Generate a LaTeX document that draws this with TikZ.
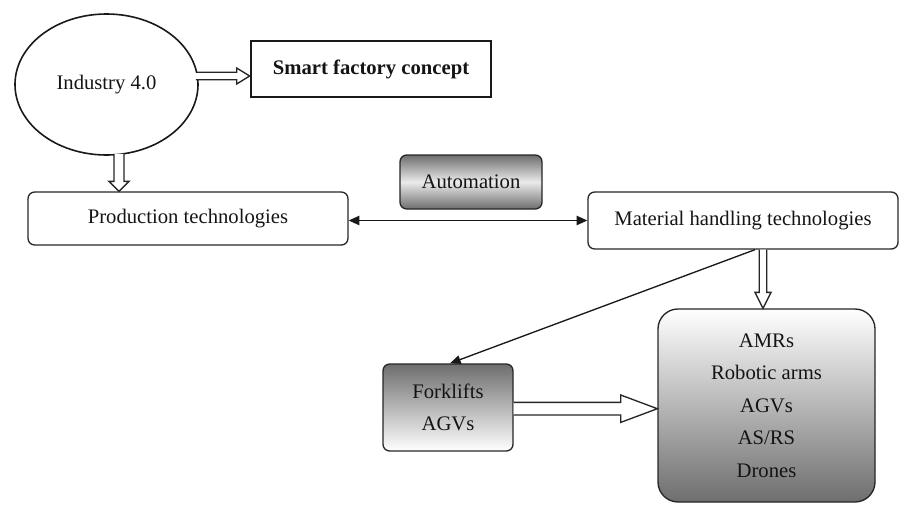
\documentclass[tikz,border=0pt]{standalone}
\usepackage{fontspec}
\setmainfont{Liberation Serif}
\usetikzlibrary{shapes.geometric,calc,arrows.meta}
\definecolor{txt}{HTML}{141414}
\definecolor{shdark}{HTML}{6E6E6E}
\newcommand{\hollowH}[5]{\draw[hollow] ($(#1)+(0,-#3)$) -- ($(#2)+(-#5,-#3)$) -- ($(#2)+(-#5,-#4)$) -- (#2) -- ($(#2)+(-#5,#4)$) -- ($(#2)+(-#5,#3)$) -- ($(#1)+(0,#3)$);}
\newcommand{\hollowV}[5]{\draw[hollow] ($(#1)+(-#3,0)$) -- ($(#2)+(-#3,-#5)$) -- ($(#2)+(-#4,-#5)$) -- (#2) -- ($(#2)+(#4,-#5)$) -- ($(#2)+(#3,-#5)$) -- ($(#1)+(#3,0)$);}
\begin{document}
\begin{tikzpicture}[x=0.75pt,y=-0.75pt,
  every node/.style={font=\fontsize{15.5}{24.3}\selectfont, text=txt, inner sep=0pt, align=center},
  box/.style={draw=black!85, line width=1pt, rounded corners=5pt},
  hollow/.style={draw=black!85, line width=1pt, fill=white, line join=miter},
  thin/.style={draw=black!90, line width=1pt}]
\useasboundingbox (0,0) rectangle (922,511);
\node[ellipse, draw=black!90, line width=1.2pt, minimum width=137.25pt, minimum height=105.75pt] (ell) at (106.5,84.5) {Industry 4.0};
\node[draw=black!90, line width=2pt, minimum width=180pt, minimum height=42pt, font=\fontsize{15.5}{18}\selectfont\bfseries] (smart) at (371,69) {Smart factory concept};
\node[box, minimum width=240pt, minimum height=39.75pt] (prod) at (188,218.5) {Production technologies};
\node[box, minimum width=106.5pt, minimum height=40.5pt, top color=shdark, bottom color=shdark, middle color=white!92!black] (auto) at (471,182) {Automation};
\node[box, minimum width=232.5pt, minimum height=42.75pt] (mat) at (743,220.5) {Material handling technologies};
\node[box, minimum width=97.5pt, minimum height=65.25pt, top color=shdark, bottom color=white] (fork) at (448,407.5) {Forklifts\\AGVs};
\node[box, rounded corners=15pt, minimum width=162.75pt, minimum height=144.75pt, top color=white, bottom color=shdark] (big) at (766.5,405.5) {AMRs\\Robotic arms\\AGVs\\AS/RS\\Drones};
% hollow arrows
\coordinate (a1s) at ($(ell.east)+(-3,-8.5)$);
\coordinate (a1t) at ($(smart.west)+(0,7)$);
\hollowH{a1s}{a1t}{3.8}{8}{13}
\coordinate (a2s) at ($(ell.south)+(12.5,-2)$);
\coordinate (a2t) at (a2s |- prod.north);
\hollowV{a2s}{a2t}{5}{10}{10}
\coordinate (a3s) at ($(mat.south)+(20,0)$);
\coordinate (a3t) at (a3s |- big.north);
\hollowV{a3s}{a3t}{3.7}{8}{16}
\coordinate (a4s) at ($(fork.east)+(0,1.2)$);
\coordinate (a4t) at (a4s -| big.west);
\hollowH{a4s}{a4t}{6.3}{13.7}{36.6}
% line arrows
\draw[thin, {Triangle[length=8pt,width=7pt]}-{Triangle[length=8pt,width=7pt]}] (prod.east |- mat.west) -- (mat.west);
\draw[thin, -{Triangle[length=8pt,width=6.5pt]}] ($(mat.south)+(12,0)$) -- ($(fork.north)+(2,0)$);
\end{tikzpicture}
\end{document}
